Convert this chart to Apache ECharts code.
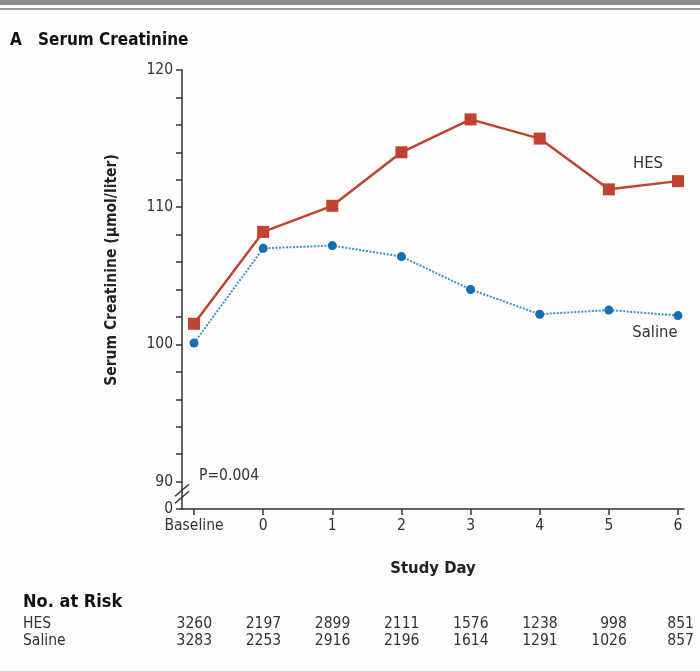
<!DOCTYPE html>
<html><head><meta charset="utf-8">
<script src="https://cdn.jsdelivr.net/npm/echarts@6/dist/echarts.min.js"></script>
<style>html,body{margin:0;padding:0;background:#fdfdfb}#c{width:700px;height:671px}</style>
</head><body><div id="c"></div>
<script>
const categories = ['Baseline','0','1','2','3','4','5','6'];
const dayValues = [-1,0,1,2,3,4,5,6];
const hesValues = [101.5,108.2,110.1,114.0,116.4,115.0,111.3,111.9];
const salineValues = [100.1,107.0,107.2,106.4,104.0,102.2,102.5,102.1];
const hesAtRisk = [3260,2197,2899,2111,1576,1238,998,851];
const salineAtRisk = [3283,2253,2916,2196,1614,1291,1026,857];
const yLabelValues = [88,90,100,110,120];
const yLabelTexts = ['0','90','100','110','120'];

const FONT = '"DejaVu Sans Condensed","Liberation Sans Narrow","Open Sans",sans-serif';
const TXT = '#333';
const chart = echarts.init(document.getElementById('c'));

const option = {
  backgroundColor:'#fdfdfb',
  animation:false,
  grid:{left:182, right:16, top:70, bottom:162},
  xAxis:{type:'value', min:-1.174, max:6.087,
    axisLine:{onZero:false, lineStyle:{color:'#333',width:1.5}},
    axisTick:{customValues:dayValues, length:6, lineStyle:{color:'#333',width:1.5}},
    axisLabel:{customValues:dayValues, margin:9, color:TXT, fontFamily:FONT, fontSize:15.5,
      formatter:v=>categories[dayValues.indexOf(v)] ?? ''},
    splitLine:{show:false},
    name:'Study Day', nameLocation:'middle', nameGap:51,
    nameTextStyle:{fontFamily:FONT, fontWeight:'bold', fontSize:16.5, color:'#222'}
  },
  yAxis:{type:'value', min:88, max:120, interval:2,
    axisLine:{show:true, onZero:false, lineStyle:{color:'#333',width:1.5}},
    axisTick:{show:true, length:6, lineStyle:{color:'#333',width:1.5}},
    axisLabel:{customValues:yLabelValues, margin:9, color:TXT, fontFamily:FONT, fontSize:15.5,
      formatter:v=>yLabelTexts[yLabelValues.indexOf(v)] ?? ''},
    splitLine:{show:false}
  },
  series:[
    {name:'HES', type:'line', data:dayValues.map((d,i)=>[d,hesValues[i]]),
     symbol:'rect', symbolSize:12, itemStyle:{color:'#bf4330'},
     lineStyle:{color:'#bf4330', width:2.5}, z:3},
    {name:'Saline', type:'line', data:dayValues.map((d,i)=>[d,salineValues[i]]),
     symbol:'circle', symbolSize:9, itemStyle:{color:'#136fae'},
     lineStyle:{color:'#3b93c9', width:2, type:[2,1.5]}, z:2}
  ]
};
chart.setOption(option);

const px = (x,y)=>chart.convertToPixel({gridIndex:0},[x,y]);
const g = [];
// top rules
g.push({type:'rect', shape:{x:0,y:0,width:700,height:5}, style:{fill:'#8c8c8c'}});
g.push({type:'rect', shape:{x:0,y:8,width:700,height:2}, style:{fill:'#9a9a9a'}});
// title
g.push({type:'text', left:10, top:32, style:{text:'A', font:'bold 17px '+FONT, fill:'#111'}});
g.push({type:'text', left:38, top:32, style:{text:'Serum Creatinine', font:'bold 17px '+FONT, fill:'#111'}});
// y axis title
g.push({type:'text', x:112, y:270, rotation:Math.PI/2, style:{text:'Serum Creatinine (\u03bcmol/liter)', font:'bold 15.5px '+FONT, fill:'#222', align:'center', verticalAlign:'middle'}});
// axis break marks
const b = px(-1.174, 89);
for (const dy of [-5,2]) {
  g.push({type:'line', shape:{x1:b[0]-7, y1:b[1]+dy+6, x2:b[0]+7, y2:b[1]+dy-6}, style:{stroke:'#333', lineWidth:1.5}});
}
// P value
const p = px(-1, 90);
g.push({type:'text', x:p[0]+5, y:p[1]-6, style:{text:'P=0.004', font:'15.5px '+FONT, fill:TXT, verticalAlign:'middle'}});
// series labels
const h = px(6, hesValues[7]);
g.push({type:'text', x:h[0]-30, y:h[1]-17, style:{text:'HES', font:'16.5px '+FONT, fill:TXT, align:'center', verticalAlign:'middle'}});
const s = px(6, salineValues[7]);
g.push({type:'text', x:s[0]-23, y:s[1]+17, style:{text:'Saline', font:'16.5px '+FONT, fill:TXT, align:'center', verticalAlign:'middle'}});
// No. at risk table
g.push({type:'text', left:23, top:593, style:{text:'No. at Risk', font:'bold 18px '+FONT, fill:'#111'}});
g.push({type:'text', x:23, y:624, style:{text:'HES', font:'15.5px '+FONT, fill:TXT, verticalAlign:'middle'}});
g.push({type:'text', x:23, y:641, style:{text:'Saline', font:'15.5px '+FONT, fill:TXT, verticalAlign:'middle'}});
dayValues.forEach((d,i)=>{
  const q = px(d, 100);
  const xr = q[0] + (i===7 ? 16 : 18);
  g.push({type:'text', x:xr, y:624, style:{text:String(hesAtRisk[i]), font:'15.5px '+FONT, fill:TXT, align:'right', verticalAlign:'middle'}});
  g.push({type:'text', x:xr, y:641, style:{text:String(salineAtRisk[i]), font:'15.5px '+FONT, fill:TXT, align:'right', verticalAlign:'middle'}});
});
chart.setOption({graphic:g});
</script></body></html>
